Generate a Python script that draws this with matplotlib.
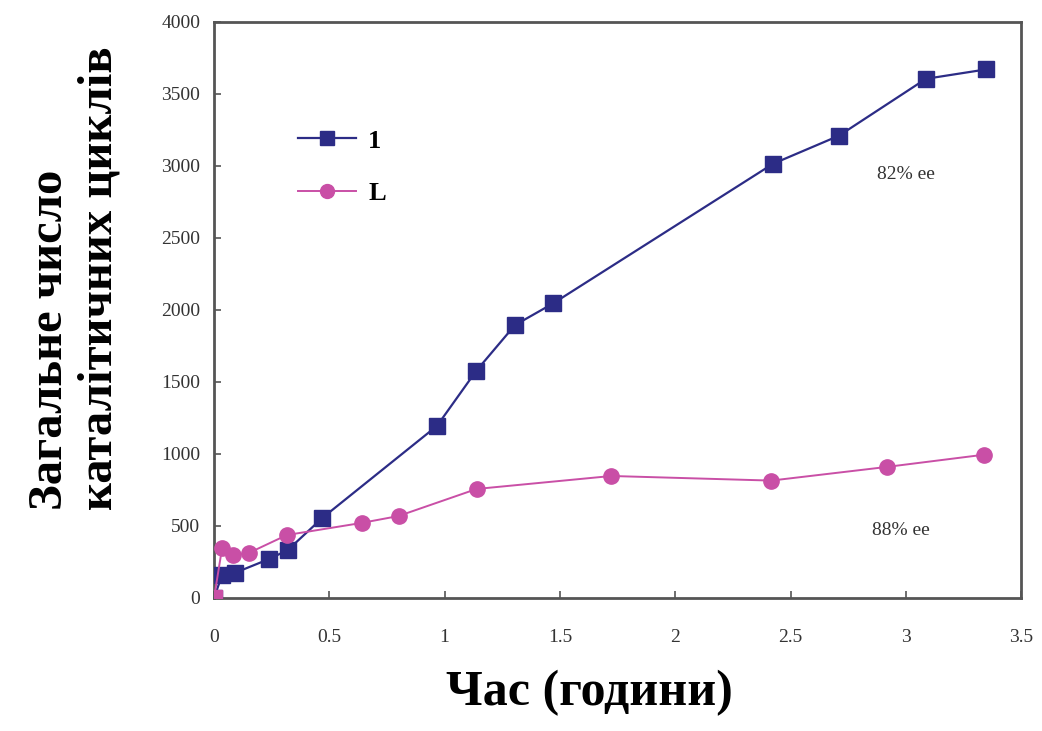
import matplotlib.pyplot as plt

COLOR_ONE = "#2c2c86"
COLOR_L = "#c94fa6"
COLOR_FRAME = "#555555"

# series "1" (squares)
time_one = [0.0, 0.035, 0.09, 0.24, 0.32, 0.47, 0.967, 1.136, 1.305, 1.47, 2.424, 2.71, 3.087, 3.347]
cycles_one = [0, 160, 174, 271, 333, 556, 1195, 1575, 1895, 2045, 3015, 3210, 3605, 3670]

# series "L" (circles)
time_l = [0.0, 0.035, 0.082, 0.15, 0.316, 0.64, 0.80, 1.139, 1.723, 2.416, 2.918, 3.34]
cycles_l = [0, 347, 299, 312, 437, 521, 569, 757, 847, 815, 910, 995]

x_ticks = [0, 0.5, 1, 1.5, 2, 2.5, 3, 3.5]
x_tick_labels = ["0", "0.5", "1", "1.5", "2", "2.5", "3", "3.5"]
y_ticks = [0, 500, 1000, 1500, 2000, 2500, 3000, 3500, 4000]

plt.rcParams["font.family"] = ["Liberation Serif", "DejaVu Serif"]

fig = plt.figure(figsize=(10.42, 7.31), dpi=100)
ax = fig.add_axes([0.2054, 0.182, 0.7746, 0.788])

ax.plot(time_one, cycles_one, color=COLOR_ONE, lw=1.6, marker="s", ms=11,
        mfc=COLOR_ONE, mec=COLOR_ONE, label="1", zorder=3)
ax.plot(time_l, cycles_l, color=COLOR_L, lw=1.4, marker="o", ms=11,
        mfc=COLOR_L, mec=COLOR_L, label="L", zorder=4)
# first L point is drawn as a square in the original
ax.plot(time_l[:1], cycles_l[:1], ls="none", marker="s", ms=12,
        color=COLOR_L, zorder=5)

ax.set_xlim(0, 3.5)
ax.set_ylim(0, 4000)
ax.set_xticks(x_ticks)
ax.set_xticklabels(x_tick_labels)
ax.set_yticks(y_ticks)
ax.tick_params(direction="in", length=5, width=1.2, labelsize=14,
               labelcolor="#333333", color=COLOR_FRAME)
ax.tick_params(axis="x", pad=22)
ax.tick_params(axis="y", pad=10)
for sp in ax.spines.values():
    sp.set_color(COLOR_FRAME)
    sp.set_linewidth(2)

ax.text(3.0, 2940, "82% ee", fontsize=14, color="#333333", ha="center", va="center")
ax.text(2.98, 470, "88% ee", fontsize=14, color="#333333", ha="center", va="center")

fig.text(0.566, 0.052, "Час (години)", fontsize=36, fontweight="bold",
         ha="center", va="center")
fig.text(0.072, 0.62, "Загальне число\nкаталітичних циклів", rotation=90,
         fontsize=35, fontweight="bold", ha="center", va="center",
         multialignment="left", linespacing=1.15)

leg = ax.legend(loc="upper left", bbox_to_anchor=(0.075, 0.855), frameon=False,
                prop={"family": "Liberation Serif", "weight": "bold", "size": 19},
                handlelength=2.2, labelspacing=1.1, handletextpad=0.45)
for h in leg.legend_handles:
    h.set_markersize(10)

fig.savefig("out.png", dpi=100)
